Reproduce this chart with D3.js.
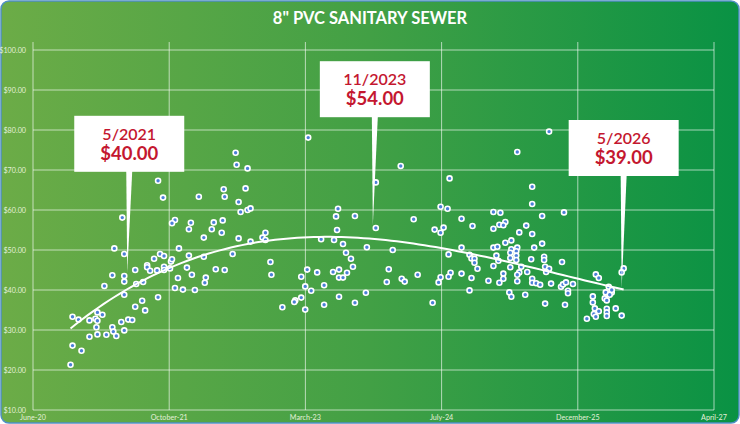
<!DOCTYPE html>
<html>
<head>
<meta charset="utf-8">
<script src="https://cdn.jsdelivr.net/npm/d3@7"></script>
<style>
  body { margin: 0; background: #fff; }
  text { font-family: Lato, "Open Sans", sans-serif; }
</style>
</head>
<body>
<div id="chart"></div>
<script>
// sale date as decimal year, price per foot in dollars
let saleYear = [
  2021.71, 2021.76, 2022.12, 2021.35, 2021.88, 2021.85, 2022.04, 2022.02, 2022.17, 2021.27,
  2021.37, 2021.92, 2021.73, 2021.77, 2021.67, 2022.02, 2022.17, 2021.60, 2021.60, 2021.48,
  2021.63, 2021.70, 2021.77, 2021.77, 2021.83, 2021.84, 2021.85, 2022.00, 2021.25, 2021.37,
  2021.37, 2021.91, 2022.05, 2021.17, 2021.49, 2021.56, 2021.88, 2021.96, 2022.08, 2022.18,
  2021.37, 2021.71, 2021.55, 2021.48, 2021.58, 2020.85, 2020.91, 2021.02, 2021.08, 2021.10,
  2021.10, 2021.15, 2021.41, 2021.45, 2021.34, 2021.09, 2021.25, 2021.26, 2021.37, 2021.10,
  2021.19, 2021.29, 2021.02, 2020.85, 2020.94, 2020.83,
  2023.22, 2022.49, 2022.50, 2022.61, 2022.37, 2022.59, 2022.38, 2022.52, 2022.54, 2022.61,
  2022.64, 2022.27, 2022.36, 2022.25, 2022.35, 2022.52, 2022.64, 2022.79, 2022.76, 2022.79,
  2022.46, 2022.19, 2022.29, 2022.38, 2022.84, 2022.85, 2023.52, 2023.50, 2023.51, 2023.35,
  2023.48, 2023.57, 2023.60, 2023.65, 2023.21, 2023.15, 2023.31, 2023.47, 2023.53, 2023.53,
  2023.57, 2023.61, 2023.19, 2023.25, 2023.38, 2023.53, 2023.15, 2023.09, 2023.08, 2022.96,
  2023.19, 2023.38,
  2023.67, 2023.69, 2023.69, 2023.81, 2023.80, 2023.90, 2023.90, 2024.15, 2024.07, 2024.03,
  2024.01, 2024.16, 2024.19, 2024.28, 2024.32, 2024.47, 2024.49, 2024.55, 2024.62, 2024.58,
  2024.55, 2024.64, 2024.63, 2024.65, 2024.55, 2024.53, 2024.63, 2024.76, 2024.87, 2024.76,
  2024.84, 2024.86, 2024.89, 2024.89, 2024.92, 2024.76, 2024.86, 2025.03, 2024.84, 2025.08,
  2025.08, 2025.08, 2025.08,
  2025.64, 2025.32, 2025.47, 2025.47, 2025.15, 2025.57, 2025.79, 2025.20, 2025.14, 2025.18,
  2025.41, 2025.34, 2025.47, 2025.26, 2025.20, 2025.57, 2025.12, 2025.11, 2025.13, 2025.26,
  2025.32, 2025.31, 2025.25, 2025.49, 2025.59, 2025.59, 2025.46, 2025.31, 2025.31, 2025.25,
  2025.77, 2025.25, 2025.36, 2025.34, 2025.32, 2025.42, 2025.60, 2025.64, 2025.61, 2025.18,
  2025.18, 2025.14, 2025.32, 2025.47, 2025.47, 2025.51, 2025.55, 2025.66, 2025.76, 2025.78,
  2025.81, 2025.88, 2025.83, 2025.83, 2025.24, 2025.26, 2025.40, 2025.60, 2025.80, 2026.11,
  2026.14, 2026.39, 2026.37, 2026.24, 2026.21, 2026.27, 2026.25, 2026.20, 2026.22, 2026.08,
  2026.08, 2026.10, 2026.14, 2026.22, 2026.22, 2026.22, 2026.31, 2026.37, 2026.09, 2026.11,
  2026.02, 2026.27
];
let unitPrice = [
  67.3, 63.1, 63.3, 58.1, 57.5, 56.7, 56.8, 55.2, 53.1, 50.4,
  49.0, 50.4, 49.0, 48.5, 47.8, 48.6, 48.3, 46.2, 45.7, 45.0,
  44.8, 44.9, 45.8, 45.0, 45.4, 47.1, 47.7, 45.6, 43.7, 43.5,
  42.1, 43.0, 43.8, 41.0, 41.5, 42.0, 40.5, 40.1, 40.0, 41.8,
  38.8, 38.2, 37.3, 35.8, 34.9, 33.3, 32.6, 32.4, 32.8, 32.3,
  34.4, 33.8, 32.6, 32.5, 32.0, 30.7, 30.7, 29.6, 29.9, 28.9,
  28.8, 28.5, 28.3, 26.1, 24.8, 21.3,
  78.1, 74.3, 71.3, 70.4, 65.2, 65.4, 63.3, 62.0, 59.5, 60.0,
  60.4, 56.9, 57.4, 55.2, 54.3, 52.9, 52.1, 54.3, 53.1, 52.5,
  49.0, 43.1, 45.2, 45.0, 47.0, 43.8, 60.3, 58.4, 55.0, 52.7,
  52.5, 51.5, 49.3, 47.8, 45.1, 43.3, 44.4, 44.5, 45.1, 43.1,
  43.1, 44.3, 40.9, 39.8, 41.2, 38.3, 38.1, 37.4, 37.0, 35.7,
  35.1, 36.3,
  45.8, 58.5, 36.8, 50.7, 39.3, 55.5, 66.9, 71.0, 50.0, 45.2,
  42.0, 42.8, 42.1, 57.7, 43.8, 36.8, 55.1, 60.8, 60.3, 55.6,
  54.3, 67.9, 48.9, 44.3, 43.2, 41.9, 43.3, 57.8, 56.0, 50.6,
  48.8, 47.9, 47.8, 46.8, 45.3, 44.1, 43.0, 42.3, 39.9, 59.5,
  55.3, 50.6, 46.0,
  79.6, 74.5, 65.8, 61.5, 59.3, 58.5, 59.4, 57.0, 56.3, 56.2,
  56.1, 54.4, 54.0, 52.4, 51.8, 51.6, 50.8, 48.6, 47.3, 50.2,
  50.6, 49.7, 49.3, 50.6, 48.3, 47.5, 47.7, 48.6, 47.5, 48.0,
  47.0, 45.7, 45.8, 44.4, 43.8, 44.5, 45.8, 45.3, 44.5, 44.1,
  42.8, 41.8, 42.2, 42.8, 41.8, 41.7, 41.3, 41.6, 40.8, 41.4,
  41.9, 41.5, 39.8, 39.2, 39.4, 38.3, 38.8, 36.6, 36.3, 43.9,
  43.0, 45.4, 44.4, 40.8, 39.4, 39.4, 38.8, 37.9, 37.4, 38.4,
  36.9, 35.4, 34.7, 35.3, 34.4, 33.5, 35.4, 33.6, 34.0, 33.3,
  32.8, 40.0
];

let yTicks = [10, 20, 30, 40, 50, 60, 70, 80, 90, 100];
let xTickLabels = ["June-20", "October-21", "March-23", "July-24", "December-25", "April-27"];

let calloutDates = ["5/2021", "11/2023", "5/2026"];
let calloutPrices = ["$40.00", "$54.00", "$39.00"];
let calloutYear = [2021.40, 2023.87, 2026.37];
let calloutTipValue = [44.3, 56.2, 40.5];

let title = "8\" PVC SANITARY SEWER";

// ---- layout ----
let W = 740, H = 424;
let plot = {left: 33, right: 714, top: 42, bottom: 410};
let calloutLift = [101, 108, 112];
let trendOrder = 3;

function yearToDate(y) {
    let yr = Math.floor(y);
    let a = Date.UTC(yr, 0, 1), b = Date.UTC(yr + 1, 0, 1);
    return new Date(a + (y - yr) * (b - a));
}

let svg = d3.select("#chart")
    .append("svg")
    .attr("width", W)
    .attr("height", H);

let grad = svg.append("defs").append("linearGradient")
    .attr("id", "bg")
    .attr("x1", "0%").attr("x2", "100%")
    .attr("y1", "0%").attr("y2", "0%");
grad.append("stop").attr("offset", "0%").attr("stop-color", "#6cac47");
grad.append("stop").attr("offset", "50%").attr("stop-color", "#42a045");
grad.append("stop").attr("offset", "100%").attr("stop-color", "#099244");

svg.append("rect")
    .attr("x", 1).attr("y", 1)
    .attr("width", W - 2).attr("height", H - 2)
    .attr("rx", 8)
    .attr("fill", "url(#bg)")
    .attr("stroke", "#4f8fc4")
    .attr("stroke-width", 1.5);

// title
svg.append("text")
    .attr("x", W / 2)
    .attr("y", 24)
    .attr("text-anchor", "middle")
    .attr("fill", "#fff")
    .attr("font-size", 16.5)
    .attr("font-weight", "bold")
    .text(title);

let start = new Date(Date.UTC(2020, 5, 15));
let xTicks = xTickLabels.map((d, i) => d3.utcDay.offset(start, 500 * i));

let x = d3.scaleUtc()
    .domain([xTicks[0], xTicks[xTicks.length - 1]])
    .range([plot.left, plot.right]);

let y = d3.scaleLinear()
    .domain([10, 100])
    .range([plot.bottom, 50]);

let gridColor = "rgba(255,255,255,0.62)";

// horizontal gridlines
yTicks.forEach(t =>
    svg.append("line")
    .attr("x1", plot.left)
    .attr("x2", plot.right)
    .attr("y1", y(t))
    .attr("y2", y(t))
    .attr("stroke", gridColor)
    .attr("stroke-width", 1)
);

// vertical gridlines
xTicks.forEach(t =>
    svg.append("line")
    .attr("x1", x(t))
    .attr("x2", x(t))
    .attr("y1", plot.top)
    .attr("y2", plot.bottom)
    .attr("stroke", gridColor)
    .attr("stroke-width", 1)
);

let fmt = d3.format("$.2f");
yTicks.forEach(t =>
    svg.append("text")
    .attr("x", 26)
    .attr("y", y(t) + 2.5)
    .attr("text-anchor", "end")
    .attr("fill", "#e3f0d9")
    .attr("font-size", 7.2)
    .text(fmt(t))
);

xTicks.forEach((t, i) =>
    svg.append("text")
    .attr("x", x(t))
    .attr("y", 420)
    .attr("text-anchor", "middle")
    .attr("fill", "#e3f0d9")
    .attr("font-size", 7.2)
    .text(xTickLabels[i])
);

// points
let points = saleYear.map((d, i) => ({date: yearToDate(d), yr: d, v: unitPrice[i]}));

svg.selectAll(".pt")
    .data(points)
    .enter()
    .append("circle")
    .attr("class", "pt")
    .attr("cx", d => x(d.date))
    .attr("cy", d => y(d.v))
    .attr("r", 2.5)
    .attr("fill", "#4b7fd8")
    .attr("stroke", "#fff")
    .attr("stroke-width", 1.6);

// polynomial trendline, least squares on the points
let mx = d3.mean(saleYear);
let n = trendOrder + 1;
let S = d3.range(n).map(() => d3.range(n).map(() => 0));
let B = d3.range(n).map(() => 0);
points.forEach(p => {
    let u = p.yr - mx;
    let row = d3.range(n).map(k => Math.pow(u, k));
    for (let a = 0; a < n; a++) {
        for (let b = 0; b < n; b++) S[a][b] += row[a] * row[b];
        B[a] += row[a] * p.v;
    }
});
function solve(A, b) {
    let M = A.map((r, i) => r.concat([b[i]]));
    let m = M.length;
    for (let c = 0; c < m; c++) {
        let p = c;
        for (let r = c + 1; r < m; r++) if (Math.abs(M[r][c]) > Math.abs(M[p][c])) p = r;
        [M[c], M[p]] = [M[p], M[c]];
        for (let r = 0; r < m; r++) {
            if (r === c) continue;
            let f = M[r][c] / M[c][c];
            for (let k = c; k <= m; k++) M[r][k] -= f * M[c][k];
        }
    }
    return M.map((r, i) => r[m] / r[i]);
}
let coef = solve(S, B);
let [y0, y1] = d3.extent(saleYear);
let trend = d3.range(0, 101).map(i => {
    let yr = y0 + (y1 - y0) * i / 100;
    let u = yr - mx;
    return {date: yearToDate(yr), v: d3.sum(coef, (c, k) => c * Math.pow(u, k))};
});

svg.append("path")
    .datum(trend)
    .attr("d", d3.line().x(d => x(d.date)).y(d => y(d.v)))
    .attr("fill", "none")
    .attr("stroke", "#fff")
    .attr("stroke-width", 2);

// callouts
calloutDates.forEach((lab, i) => {
    let tx = x(yearToDate(calloutYear[i]));
    let ty = y(calloutTipValue[i]);
    let boxBottom = ty - calloutLift[i];
    let bw = 110, bh = 56;
    let cx = tx + 2;

    let g = svg.append("g");
    g.append("path")
        .attr("d", `M${tx - 1},${boxBottom - 1} L${tx + 5},${boxBottom - 1} L${tx},${ty} Z`)
        .attr("fill", "#fff");
    g.append("rect")
        .attr("x", cx - bw / 2)
        .attr("y", boxBottom - bh)
        .attr("width", bw)
        .attr("height", bh)
        .attr("fill", "#fff");
    g.append("text")
        .attr("x", cx)
        .attr("y", boxBottom - bh + 24)
        .attr("text-anchor", "middle")
        .attr("fill", "#c4172f")
        .attr("font-size", 16)
        .attr("font-weight", 600)
        .text(lab);
    g.append("text")
        .attr("x", cx)
        .attr("y", boxBottom - bh + 44)
        .attr("text-anchor", "middle")
        .attr("fill", "#c4172f")
        .attr("font-size", 18.5)
        .attr("font-weight", "bold")
        .text(calloutPrices[i]);
});
</script>
</body>
</html>
